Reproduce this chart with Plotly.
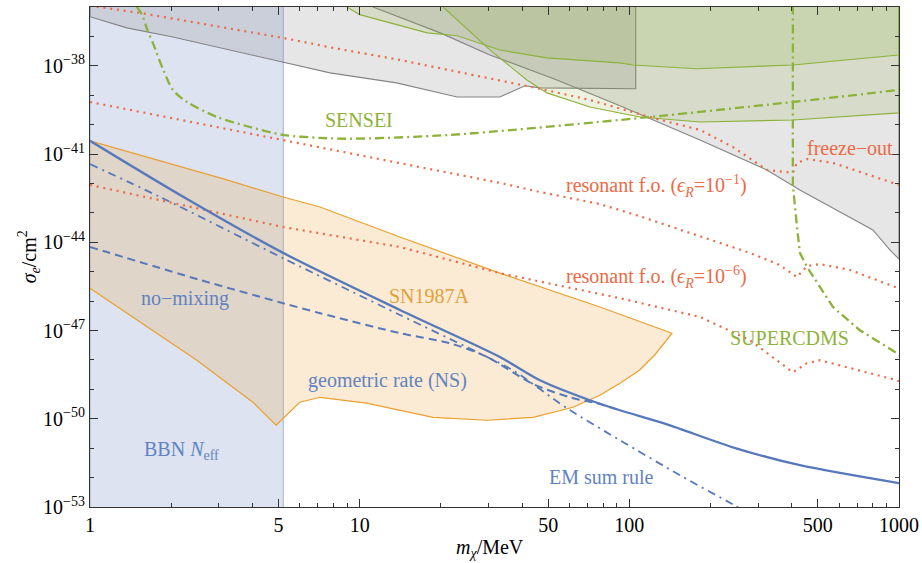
import math
import plotly.graph_objects as go

# ---------------- data (mass in MeV, log10 of sigma_e / cm^2) ----------------
bbn_mass = [1, 5.21]

gray1_mass = [1, 1.37, 2.01, 5.2, 7.76, 13.7, 23.0, 33.1, 41.0, 46.6, 105.6]
gray1_logsig = [-36.33, -36.71, -37.01, -37.86, -38.24, -38.58, -39.06, -39.06, -38.68, -38.75, -38.78]

gray2_mass = [11.2, 19.9, 30.4, 53.9, 94.7, 182.8, 323.7, 429, 800, 925, 1000]
gray2_logsig = [-36.0, -36.88, -37.63, -38.48, -39.40, -40.52, -41.54, -42.22, -43.58, -44.26, -44.57]

green1_mass = [8.97, 10.0, 17.8, 23.0, 33.1, 49.4, 92.3, 103, 178, 404, 1000]
green1_logsig = [-36.0, -36.26, -36.88, -36.98, -37.46, -37.73, -37.90, -37.97, -38.10, -37.97, -37.63]

green2_mass = [20.4, 30.4, 41.7, 49.5, 71.4, 109.5, 182.8, 404, 1000]
green2_logsig = [-36.0, -37.46, -38.48, -38.92, -39.40, -39.74, -39.91, -39.84, -39.60]

sn_upper_mass = [1, 3.22, 5.2, 7.13, 14.1, 33.1, 77.8, 144]
sn_upper_logsig = [-40.55, -41.88, -42.46, -42.80, -43.82, -45.05, -46.20, -47.09]
sn_lower_mass = [1, 2.49, 4.02, 4.9, 6.0, 7.13, 10.6, 18.7, 29.7, 44.0, 61.8, 77.8, 92.3, 109, 124, 144]
sn_lower_logsig = [-45.56, -48.01, -49.44, -50.22, -49.44, -49.27, -49.47, -49.95, -50.05, -49.95,
                   -49.61, -49.20, -48.79, -48.35, -47.84, -47.09]

fo_mass = [1, 1.53, 5.2, 7.96, 14.1, 32.3, 46.6, 71.4, 122, 183, 242, 324, 404, 418, 456, 569, 948, 1000]
fo_logsig = [-35.96, -36.20, -37.05, -37.39, -37.80, -38.48, -38.78, -39.16, -39.77, -40.18, -40.76,
             -41.54, -41.64, -41.30, -41.17, -41.30, -41.98, -42.05]

r1_mass = [1, 5.2, 14.1, 33.1, 46.6, 77.8, 109, 183, 280, 361, 418, 456, 509, 658, 982, 1000]
r1_logsig = [-39.23, -40.52, -41.30, -41.98, -42.29, -42.70, -43.11, -43.79, -44.36, -44.77, -45.18,
             -44.81, -44.74, -44.94, -45.52, -45.57]

r6_mass = [1, 5.2, 14.1, 33.1, 92.3, 183, 280, 404, 456, 509, 982, 1000]
r6_logsig = [-42.05, -43.48, -44.16, -45.05, -45.90, -46.54, -47.33, -48.42, -48.11, -48.01, -48.69, -48.72]

sensei_mass = [1.49, 1.56, 1.63, 1.71, 1.87, 2.03, 2.29, 2.96, 3.92, 5.2, 7.13, 9.2, 21.6, 92.3, 404, 1000]
sensei_logsig = [-35.99, -36.26, -36.77, -37.22, -38.14, -38.82, -39.23, -39.74, -40.08, -40.35, -40.45,
                 -40.48, -40.35, -39.84, -39.23, -38.82]

scdms_mass = [404, 404, 418, 429, 456, 569, 716, 982, 1000]
scdms_logsig = [-35.95, -42.05, -43.41, -44.36, -44.84, -46.20, -46.99, -47.77, -47.85]

ns_mass = [1, 2.29, 5.2, 14.1, 33.1, 46.6, 71.4, 92.3, 138, 242, 429, 1000]
ns_logsig = [-40.55, -42.53, -44.36, -46.30, -47.90, -48.69, -49.37, -49.71, -50.19, -50.97, -51.58, -52.19]

nm_mass = [1, 2.56, 5.2, 7.13, 14.1, 21.6, 29.7, 44.0, 60.2, 77.8, 92.3]
nm_logsig = [-44.16, -45.28, -46.07, -46.41, -47.09, -47.43, -47.90, -48.82, -49.27, -49.50, -49.71]

em_mass = [1, 1.82, 5.2, 14.1, 29.7, 37.0, 58.7, 92.3, 154, 242, 257]
em_logsig = [-41.34, -42.46, -44.54, -46.47, -47.90, -48.35, -49.64, -50.73, -51.92, -52.91, -53.05]

x_tick_vals = [1, 5, 10, 50, 100, 500, 1000]
x_tick_text = ["1", "5", "10", "50", "100", "500", "1000"]
x_minor_vals = [2, 3, 4, 6, 7, 8, 9, 20, 30, 40, 60, 70, 80, 90, 200, 300, 400, 600, 700, 800, 900]
y_tick_exps = [-53, -50, -47, -44, -41, -38]
y_minor_exps = list(range(-53, -35))

# ---------------- styling ----------------
SERIF = "Liberation Serif, Times New Roman, serif"
C_RED = "#ec6a45"
C_GREEN = "#8db23a"
C_BLUE = "#5779bb"
C_BLUE_TXT = "#6183c2"
C_ORANGE = "#e9a030"
C_ORANGE_TXT = "#e4a03a"
TOP = 1e-34
BOTTOM = 1e-55


def sig(vals):
    return [10 ** v for v in vals]


fig = go.Figure()


def region_above(mass, logsig, fillcolor, linecolor, lw=1.0):
    xs = list(mass) + [mass[-1], mass[0], mass[0]]
    ys = sig(logsig) + [TOP, TOP, 10 ** logsig[0]]
    fig.add_trace(go.Scatter(x=xs, y=ys, mode="lines", fill="toself", fillcolor=fillcolor,
                             line=dict(color=linecolor, width=lw), hoverinfo="skip"))


# BBN band
fig.add_trace(go.Scatter(x=[bbn_mass[0], bbn_mass[1], bbn_mass[1], bbn_mass[0], bbn_mass[0]],
                         y=[BOTTOM, BOTTOM, TOP, TOP, BOTTOM], mode="lines", fill="toself",
                         fillcolor="rgba(95,125,190,0.21)",
                         line=dict(color="rgba(120,145,195,0.55)", width=1.2), hoverinfo="skip"))

# gray regions
region_above(gray1_mass, gray1_logsig, "rgba(128,128,128,0.20)", "#858585", 1.1)
region_above(gray2_mass, gray2_logsig, "rgba(128,128,128,0.20)", "#858585", 1.1)
# green regions
region_above(green2_mass, green2_logsig, "rgba(135,170,45,0.15)", C_GREEN, 1.1)
region_above(green1_mass, green1_logsig, "rgba(135,170,45,0.17)", C_GREEN, 1.1)

# SN1987A
sn_x = sn_upper_mass + sn_lower_mass[::-1]
sn_y = sig(sn_upper_logsig) + sig(sn_lower_logsig[::-1])
fig.add_trace(go.Scatter(x=sn_x, y=sn_y, mode="lines", fill="toself", fillcolor="rgba(238,165,60,0.22)",
                         line=dict(color=C_ORANGE, width=1.2), hoverinfo="skip"))


def curve(mass, logsig, color, width, dash, shape="linear"):
    fig.add_trace(go.Scatter(x=mass, y=sig(logsig), mode="lines",
                             line=dict(color=color, width=width, dash=dash, shape=shape,
                                       smoothing=0.8 if shape == "spline" else None),
                             hoverinfo="skip"))


DOT = "2px,4.8px"
curve(fo_mass, fo_logsig, C_RED, 2.2, DOT)
curve(r1_mass, r1_logsig, C_RED, 2.2, DOT)
curve(r6_mass, r6_logsig, C_RED, 2.2, DOT)
curve(sensei_mass, sensei_logsig, C_GREEN, 2.3, "9px,4px,2px,4px", "spline")
curve(scdms_mass, scdms_logsig, C_GREEN, 2.3, "9px,4px,2px,4px")
curve(nm_mass, nm_logsig, C_BLUE, 2.0, "8px,5px", "spline")
curve(em_mass, em_logsig, C_BLUE, 1.8, "8px,5px,2px,5px", "spline")
curve(ns_mass, ns_logsig, C_BLUE, 2.3, "solid", "spline")

# ---------------- labels ----------------
labels = [
    ("SENSEI", 9.93, -39.84, C_GREEN),
    ("freeze−out", 658, -40.79, C_RED),
    ("resonant f.o. (<i>ϵ</i><sub><i>R</i></sub>=10<sup>−1</sup>)", 126.6, -42.08, C_RED),
    ("resonant f.o. (<i>ϵ</i><sub><i>R</i></sub>=10<sup>−6</sup>)", 126.6, -45.18, C_RED),
    ("SN1987A", 18.2, -45.83, C_ORANGE_TXT),
    ("no−mixing", 2.25, -45.90, C_BLUE_TXT),
    ("geometric rate (NS)", 12.7, -48.69, C_BLUE_TXT),
    ("BBN <i>N</i><sub>eff</sub>", 2.19, -51.07, C_BLUE_TXT),
    ("EM sum rule", 79.1, -51.99, C_BLUE_TXT),
    ("SUPERCDMS", 394, -47.26, C_GREEN),
]
for text, mx, ly, col in labels:
    fig.add_annotation(x=math.log10(mx), y=ly, xref="x", yref="y", text=text, showarrow=False,
                       font=dict(family=SERIF, size=20, color=col), xanchor="center", yanchor="middle")

# axis titles
fig.add_annotation(x=0.494, y=-0.083, xref="paper", yref="paper",
                   text="<i>m</i><sub><i>χ</i></sub>/MeV", showarrow=False,
                   font=dict(family=SERIF, size=20, color="black"), xanchor="center", yanchor="middle")
fig.add_annotation(x=-0.075, y=0.50, xref="paper", yref="paper",
                   text="<i>σ</i><sub><i>e</i></sub>/cm<sup>2</sup>", showarrow=False, textangle=-90,
                   font=dict(family=SERIF, size=20, color="black"), xanchor="center", yanchor="middle")

axis_common = dict(showgrid=False, zeroline=False, showline=True, linecolor="#333333", linewidth=1.2,
                   mirror="allticks", ticks="inside", ticklen=8, tickwidth=1, tickcolor="#333333",
                   automargin=False, tickfont=dict(family=SERIF, size=20, color="black"))

fig.update_layout(
    width=922, height=563,
    margin=dict(l=90, r=23, t=7, b=56),
    paper_bgcolor="white", plot_bgcolor="white",
    showlegend=False,
    xaxis=dict(type="log", range=[0, 3], tickmode="array", tickvals=x_tick_vals, ticktext=x_tick_text,
               minor=dict(tickmode="array", tickvals=x_minor_vals, ticks="inside", ticklen=4,
                          tickcolor="#333333", showgrid=False),
               **axis_common),
    yaxis=dict(type="log", range=[-53, -36], tickmode="array",
               tickvals=[10 ** e for e in y_tick_exps],
               ticktext=["10<sup>−%d</sup>" % (-e) for e in y_tick_exps],
               minor=dict(tickmode="array", tickvals=[10 ** e for e in y_minor_exps], ticks="inside",
                          ticklen=4, tickcolor="#333333", showgrid=False),
               **axis_common),
)

fig.write_html("out.html", config={"displayModeBar": False},
               post_script="document.body.style.margin='0';document.body.style.overflow='hidden';")
